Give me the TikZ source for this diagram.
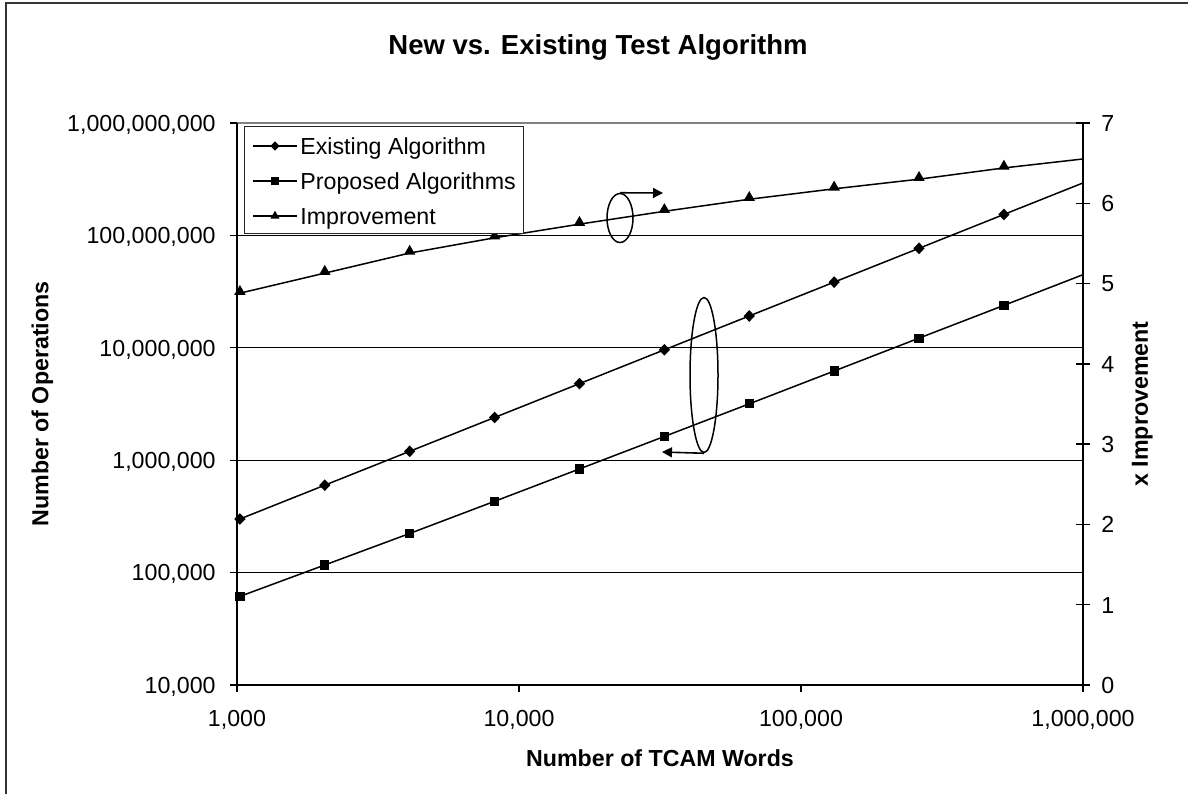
\documentclass[tikz,border=0pt]{standalone}
\usepackage{fontspec}
\setmainfont{Liberation Sans}
\usetikzlibrary{arrows.meta,shapes.geometric}

\begin{document}
\begin{tikzpicture}[x=0.5pt,y=-0.5pt,
  lbl/.style={font=\fontsize{11.6}{13}\selectfont, inner sep=0pt, text height=8.3pt, text depth=0pt},
  boldlbl/.style={font=\fontsize{11.6}{13}\selectfont\bfseries, inner sep=0pt, text height=8.3pt, text depth=0pt},
  grid line/.style={line width=0.6pt, black},
  axis line/.style={line width=0.65pt, black},
  series/.style={line width=0.75pt, black},
  diamark/.style={diamond, fill=black, inner sep=0pt, minimum width=5.8pt, minimum height=6pt},
  sqmark/.style={rectangle, fill=black, inner sep=0pt, minimum size=4.6pt},
  trimark/.style={regular polygon, regular polygon sides=3, fill=black, inner sep=0pt, minimum size=6.6pt},
  ring/.style={ellipse, draw, line width=0.75pt, inner sep=0pt},
  pointer/.style={line width=0.8pt, -{Triangle[length=5pt,width=5pt]}}]

\useasboundingbox (0,0) rectangle (1188,794);
\fill[white] (0,0) rectangle (1188,794);

% chart frame
\draw[line width=0.8pt, black!80] (6,794) -- (6,3) -- (1188,3);

% title
\node[font=\fontsize{13.75}{16}\selectfont\bfseries, inner sep=0pt, text height=9.9pt, text depth=0pt] (title) at (598,45) {New vs. Existing Test Algorithm};

% horizontal grid lines (decades on the left axis)
\foreach \d/\y in {8/235.4,7/347.8,6/460.2,5/572.6}
  \draw[grid line] (237,\y) -- (1083,\y);
\draw[line width=0.65pt, black!50] (237,123) -- (1083,123);

% axes
\draw[axis line] (237,123) -- (237,685) -- (1083,685);
\draw[axis line] (1083,123) -- (1083,685);

% left axis ticks and labels
\foreach \y/\t in {123/{1,000,000,000},235.4/{100,000,000},347.8/{10,000,000},460.2/{1,000,000},572.6/{100,000},685/{10,000}}{
  \draw[axis line] (230,\y) -- (237,\y);
  \node[lbl, anchor=east] at (216,\y) {\t};
}

% bottom axis ticks and labels
\foreach \x/\t in {237/{1,000},519/{10,000},801/{100,000},1083/{1,000,000}}{
  \draw[axis line] (\x,685) -- (\x,692);
  \node[lbl] at (\x,718.5) {\t};
}

% right axis ticks and labels
\foreach \v in {0,...,7}{
  \pgfmathsetmacro\yy{685-80.29*\v}
  \draw[axis line] (1076,\yy) -- (1090,\yy);
  \node[lbl, anchor=west] at (1101,\yy) {\v};
}

% axis titles
\node[boldlbl, rotate=90] (ytitle) at (40,404) {Number of Operations};
\node[boldlbl, rotate=90] (y2title) at (1139.5,404) {x Improvement};
\node[boldlbl] (xtitle) at (660,758.5) {Number of TCAM Words};

% data points: N = 1024 * 2^k
\foreach \k/\imp in {0/4.88,1/5.13,2/5.38,3/5.57,4/5.74,5/5.90,6/6.05,7/6.18,8/6.30,9/6.44,10/6.56}{
  \pgfmathsetmacro\xx{239.9+84.89*\k}
  \pgfmathsetmacro\ye{519.0-33.84*\k}
  \pgfmathsetmacro\yp{\ye+112.4*log10(\imp)}
  \pgfmathsetmacro\yi{685-80.29*\imp}
  \coordinate (E\k) at (\xx,\ye);
  \coordinate (P\k) at (\xx,\yp);
  \coordinate (I\k) at (\xx,\yi);
}

\begin{scope}
  \clip (237,123) rectangle (1083,685);
  \draw[series] (E0) \foreach \k in {1,...,10}{ -- (E\k)};
  \draw[series] (P0) \foreach \k in {1,...,10}{ -- (P\k)};
  \draw[series] (I0) \foreach \k in {1,...,10}{ -- (I\k)};
\end{scope}

\foreach \k in {0,...,9}{
  \node[diamark] (mE\k) at (E\k) {};
  \node[sqmark] (mP\k) at (P\k) {};
  \node[trimark] (mI\k) at ([yshift=0.8pt]I\k) {};
}

% legend
\node[draw=black!85, line width=0.65pt, fill=white, inner sep=0pt, minimum width=139.5pt, minimum height=53.5pt, anchor=north west] (legend) at (244,126) {};
\foreach \y/\m/\t/\n in {146/diamark/{Existing Algorithm}/a,181/sqmark/{Proposed Algorithms}/b,216/trimark/{Improvement}/c}{
  \coordinate (la\n) at (253,\y);
  \coordinate (lb\n) at (297,\y);
  \draw[series] (la\n) -- (lb\n);
  \node[\m, scale=0.8] (lm\n) at (275,\y) {};
  \node[lbl, anchor=west] (lt\n) at (300,\y) {\t};
}

% series call-outs
\node[ring, minimum width=13pt, minimum height=24.5pt] (ringI) at (620,218) {};
\coordinate (tipI) at (663,193);
\draw[pointer] (ringI.north) -- (tipI);

\node[ring, minimum width=14pt, minimum height=77.5pt] (ringOps) at (704,375) {};
\coordinate (tipOps) at (662,452);
\draw[pointer] (ringOps.south) -- (tipOps);

\end{tikzpicture}
\end{document}
